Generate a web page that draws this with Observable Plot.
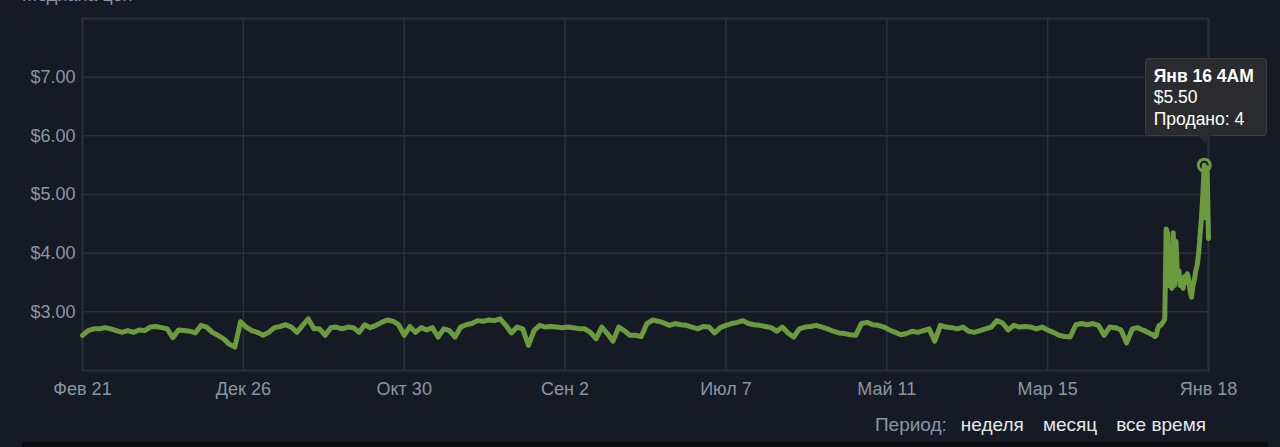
<!DOCTYPE html>
<html>
<head>
<meta charset="utf-8">
<script src="https://cdn.jsdelivr.net/npm/d3@7"></script>
<script src="https://cdn.jsdelivr.net/npm/@observablehq/plot@0.6"></script>
<style>
  html, body { margin: 0; padding: 0; background: #151a24; overflow: hidden; }
  body { width: 1280px; height: 447px; position: relative; font-family: "Liberation Sans", Arial, Helvetica, sans-serif; }
  #title { position: absolute; left: 22px; top: -15px; font-size: 18px; color: #8c96a3; }
  #chart { position: absolute; left: 0; top: 0; }
  #period { position: absolute; right: 74px; top: 414px; font-size: 19px; color: #8c96a3; white-space: nowrap; }
  #period span { color: #e6e8ea; margin-left: 19px; }
  #period span.first { margin-left: 14px; }
  #tip { position: absolute; width: 122px; height: 78px; background: #2a2b2e; border: 1px solid #3b3c40; border-radius: 3px; color: #ffffff; font-size: 17.5px; line-height: 21.5px; box-sizing: border-box; padding: 7px 0 0 8px; }
  #tip b { font-weight: bold; }
  #tip:after { content: ""; position: absolute; left: 52px; bottom: -8px; border-left: 7px solid transparent; border-right: 7px solid transparent; border-top: 8px solid #2a2b2e; }
  #band { position: absolute; left: 22px; top: 442px; width: 1246px; height: 5px; background: #0a0d12; }
</style>
</head>
<body>
<div id="title">Медиана цен</div>
<div id="chart"></div>
<div id="period">Период:<span class="first">неделя</span><span>месяц</span><span>все время</span></div>
<div id="band"></div>
<script>
// x tick positions (days) and their labels
const xTicks = [0, 57, 114, 171, 228, 285, 342, 399];
const xTickLabels = ["Фев 21", "Дек 26", "Окт 30", "Сен 2", "Июл 7", "Май 11", "Мар 15", "Янв 18"];
const yTicks = [3, 4, 5, 6, 7];

// daily-ish median prices, one every 2 days starting at day 0
const pricesEarly = [
  2.60,2.68,2.71,2.71,2.73,2.71,2.68,2.65,2.68,2.65,2.69,2.68,2.74,2.75,2.73,2.71,2.56,2.69,2.68,2.67,
  2.64,2.77,2.74,2.65,2.60,2.54,2.45,2.40,2.83,2.74,2.68,2.65,2.60,2.65,2.73,2.75,2.78,2.74,2.65,2.77,
  2.88,2.71,2.71,2.60,2.73,2.74,2.71,
  2.74,2.73,2.65,2.78,2.73,2.77,2.82,2.86,2.84,2.78,2.60,2.75,2.65,2.73,2.69,2.73,2.57,2.71,2.68,2.57,
  2.74,2.78,2.80,2.85,2.84,2.86,2.85,2.88,2.77,2.64,2.74,2.71,2.43,2.68,2.77,2.74,2.75,2.74,2.73,2.74,
  2.73,2.71,2.71,2.65,2.54,2.74,2.63,
  2.50,2.74,2.68,2.60,2.60,2.58,2.80,2.86,2.84,2.81,2.77,2.80,2.78,2.77,2.74,2.71,2.75,2.74,2.64,2.73,
  2.77,2.80,2.82,2.85,2.80,2.78,2.77,2.75,2.73,2.67,2.74,2.64,2.57,2.71,2.74,2.75,2.77,2.74,2.71,2.67,
  2.64,2.63,2.61,2.60,2.80,2.82,2.78,
  2.77,2.74,2.69,2.65,2.61,2.63,2.67,2.65,2.68,2.71,2.50,2.77,2.74,2.73,2.71,2.74,2.67,2.65,2.68,2.71,
  2.74,2.85,2.81,2.69,2.77,2.74,2.75,2.74,2.71,2.74,2.69,2.65,2.60,2.58,2.57,2.78,2.80,2.78,2.80,2.77,
  2.60,2.74,2.73,2.69,2.47,2.71,2.73
];
const earlyStep = 2;

// recent prices, one every half day starting at day 376
const pricesRecent = [
  2.68,2.68,2.66,2.65,2.64,2.62,2.62,2.60,2.58,2.60,2.71,2.77,2.77,2.80,2.83,2.88,
  4.41,4.35,3.45,3.55,3.40,4.35,3.45,4.20,3.60,3.70,3.45,3.55,3.40,3.60,3.50,3.65,
  3.55,3.35,3.25,3.45,3.55,3.70,3.80,4.00,4.30,4.60,5.00,5.50,4.60,5.45,4.25
];
const recentStart = 376;
const recentStep = 0.5;

// highlighted point
const hoverDay = 397.5;
const hoverPrice = 5.50;
const hoverLabel = "Янв 16 4AM";
const hoverSold = "Продано: 4";

const series = [
  ...pricesEarly.map((p, i) => ({day: i * earlyStep, price: p})),
  ...pricesRecent.map((p, i) => ({day: recentStart + i * recentStep, price: p}))
];

const gridColor = "#29313e";
const lineColor = "#6c9a3f";

const chart = Plot.plot({
  width: 1280,
  height: 400,
  marginLeft: 82,
  marginRight: 72,
  marginTop: 18,
  marginBottom: 30,
  style: {background: "transparent", color: "#8c96a3", fontSize: "18px", fontFamily: "'Liberation Sans', Arial, Helvetica, sans-serif"},
  x: {domain: [0, 399], ticks: xTicks, tickFormat: d => xTickLabels[xTicks.indexOf(d)], tickSize: 0, tickPadding: 12, label: null},
  y: {domain: [2, 8], ticks: yTicks, tickFormat: d => "$" + d.toFixed(2), tickSize: 0, tickPadding: 7, label: null},
  marks: [
    Plot.ruleY(yTicks, {stroke: gridColor, strokeWidth: 1.5}),
    Plot.ruleX(xTicks, {stroke: gridColor, strokeWidth: 1.5}),
    Plot.frame({stroke: gridColor, strokeWidth: 2}),
    Plot.line(series, {x: "day", y: "price", stroke: lineColor, strokeWidth: 5, curve: "linear"}),
    Plot.dot([{day: hoverDay, price: hoverPrice}], {x: "day", y: "price", r: 6, stroke: lineColor, strokeWidth: 3, fill: "none"})
  ]
});
document.getElementById("chart").appendChild(chart);

const px = chart.scale("x").apply(hoverDay);
const py = chart.scale("y").apply(hoverPrice);
const tip = document.createElement("div");
tip.id = "tip";
tip.innerHTML = "<b>" + hoverLabel + "</b><br>$" + hoverPrice.toFixed(2) + "<br>" + hoverSold;
tip.style.left = (px - 59) + "px";
tip.style.top = (py - 107) + "px";
document.body.appendChild(tip);
</script>
</body>
</html>
